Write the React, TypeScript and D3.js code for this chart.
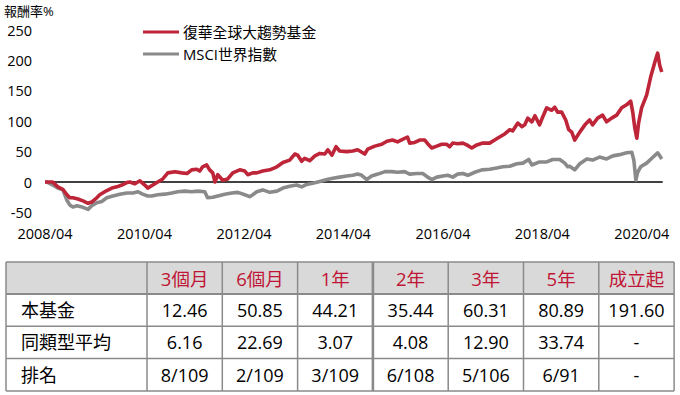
import React from 'react';
import * as d3 from 'd3';

const FONT = '"Open Sans", "Noto Sans CJK TC", sans-serif';
const RED = '#be2538';
const GRAY = '#8a8a8a';
const HEAD_RED = '#c01535';

const axisTitle = '報酬率%';
const fundName = '復華全球大趨勢基金';
const indexName = 'MSCI世界指數';

// cumulative return %
const fundSeries: [string, number][] = [
  ['2008-04-01', 0], ['2008-04-13', 0], ['2008-05-28', 0], ['2008-07-04', -8], ['2008-08-10', -12],
  ['2008-09-09', -21], ['2008-10-01', -26], ['2008-10-23', -26], ['2008-11-29', -28], ['2009-01-05', -31],
  ['2009-02-11', -35], ['2009-03-10', -33], ['2009-04-16', -26], ['2009-05-08', -21], ['2009-06-29', -14],
  ['2009-08-05', -10], ['2009-09-11', -8], ['2009-10-17', -5], ['2009-11-23', -1], ['2009-12-15', 0],
  ['2010-01-21', -3], ['2010-02-27', 2], ['2010-04-04', -5], ['2010-04-25', -10], ['2010-06-02', -5],
  ['2010-07-08', 0], ['2010-08-14', 5], ['2010-09-20', 15], ['2010-11-11', 17], ['2011-01-01', 15],
  ['2011-02-08', 14], ['2011-03-14', 20], ['2011-04-20', 21], ['2011-05-12', 18], ['2011-06-03', 25],
  ['2011-07-02', 28], ['2011-07-24', 20], ['2011-08-16', 15], ['2011-09-01', 0], ['2011-09-22', 12],
  ['2011-10-28', 3], ['2011-12-04', 5], ['2012-01-10', 15], ['2012-03-01', 20], ['2012-04-07', 18],
  ['2012-04-29', 12], ['2012-06-05', 15], ['2012-07-04', 15], ['2012-08-17', 18], ['2012-10-08', 20],
  ['2012-11-29', 25], ['2013-01-12', 32], ['2013-03-03', 36], ['2013-04-09', 46], ['2013-05-01', 44],
  ['2013-05-30', 34], ['2013-06-21', 39], ['2013-07-28', 35], ['2013-09-04', 43], ['2013-10-10', 47],
  ['2013-11-16', 46], ['2013-12-08', 53], ['2014-01-07', 44], ['2014-02-06', 58], ['2014-03-05', 51],
  ['2014-04-25', 50], ['2014-06-09', 51], ['2014-07-15', 53], ['2014-09-05', 46], ['2014-09-27', 54],
  ['2014-11-18', 59], ['2015-01-08', 62], ['2015-02-15', 67], ['2015-03-28', 69], ['2015-05-04', 66],
  ['2015-06-10', 70], ['2015-07-16', 74], ['2015-08-01', 64], ['2015-09-07', 65], ['2015-10-13', 69],
  ['2015-11-20', 69], ['2015-12-11', 63], ['2016-01-10', 56], ['2016-02-16', 59], ['2016-03-23', 62],
  ['2016-04-29', 62], ['2016-05-20', 58], ['2016-06-12', 64], ['2016-07-18', 63], ['2016-08-25', 64],
  ['2016-09-23', 61], ['2016-10-30', 56], ['2016-12-06', 61], ['2017-01-19', 64], ['2017-03-10', 64],
  ['2017-04-16', 69], ['2017-05-22', 74], ['2017-06-29', 79], ['2017-08-05', 86], ['2017-08-26', 84],
  ['2017-10-03', 97], ['2017-11-02', 91], ['2017-11-23', 94], ['2017-12-15', 105], ['2018-01-14', 99],
  ['2018-02-06', 109], ['2018-03-12', 94], ['2018-04-04', 107], ['2018-05-03', 122], ['2018-06-09', 118],
  ['2018-07-01', 123], ['2018-07-22', 115], ['2018-08-21', 115], ['2018-09-20', 102], ['2018-10-12', 86],
  ['2018-11-03', 82], ['2018-11-25', 69], ['2019-01-01', 82], ['2019-02-08', 94], ['2019-03-14', 102],
  ['2019-04-05', 94], ['2019-05-12', 105], ['2019-06-18', 110], ['2019-07-17', 99], ['2019-08-23', 105],
  ['2019-09-29', 110], ['2019-11-05', 122], ['2019-12-11', 127], ['2020-01-10', 133], ['2020-01-25', 115],
  ['2020-02-09', 89], ['2020-02-24', 72], ['2020-03-08', 97], ['2020-03-30', 122], ['2020-05-06', 143],
  ['2020-06-05', 173], ['2020-07-04', 196], ['2020-07-26', 212], ['2020-08-10', 192], ['2020-08-25', 181],
];

const indexSeries: [string, number][] = [
  ['2008-04-01', 0], ['2008-04-13', 0], ['2008-05-28', -5], ['2008-07-04', -10], ['2008-08-10', -13],
  ['2008-09-09', -30], ['2008-10-01', -38], ['2008-10-23', -41], ['2008-11-22', -39], ['2008-12-28', -41],
  ['2009-02-11', -45], ['2009-03-10', -39], ['2009-04-16', -34], ['2009-05-23', -32], ['2009-06-29', -26],
  ['2009-08-12', -23], ['2009-10-03', -20], ['2009-11-23', -18], ['2010-01-07', -18], ['2010-02-13', -16],
  ['2010-03-19', -20], ['2010-04-25', -23], ['2010-05-24', -23], ['2010-07-08', -21], ['2010-08-28', -20],
  ['2010-10-19', -18], ['2010-12-02', -16], ['2011-01-23', -15], ['2011-03-14', -16], ['2011-04-27', -15],
  ['2011-06-18', -16], ['2011-07-09', -26], ['2011-08-16', -25], ['2011-09-22', -23], ['2011-11-12', -20],
  ['2012-01-03', -18], ['2012-02-16', -17], ['2012-04-07', -21], ['2012-05-13', -24], ['2012-06-05', -21],
  ['2012-07-04', -16], ['2012-08-17', -13], ['2012-10-08', -17], ['2012-11-29', -15], ['2013-01-12', -10],
  ['2013-03-03', -7], ['2013-04-23', -5], ['2013-05-30', -8], ['2013-07-06', -4], ['2013-08-19', -2],
  ['2013-10-10', 1], ['2013-12-01', 4], ['2014-01-14', 6], ['2014-03-05', 8], ['2014-04-25', 10],
  ['2014-06-09', 11], ['2014-07-15', 13], ['2014-08-14', 11], ['2014-09-20', 4], ['2014-10-26', 10],
  ['2014-12-10', 13], ['2015-02-01', 17], ['2015-03-21', 17], ['2015-05-04', 16], ['2015-06-25', 17],
  ['2015-08-01', 13], ['2015-09-22', 14], ['2015-11-05', 14], ['2015-12-11', 8], ['2016-01-10', 4],
  ['2016-02-16', 8], ['2016-04-01', 10], ['2016-05-06', 11], ['2016-06-12', 8], ['2016-07-18', 13],
  ['2016-08-25', 14], ['2016-10-01', 11], ['2016-11-21', 16], ['2017-01-12', 20], ['2017-03-10', 21],
  ['2017-05-01', 23], ['2017-06-14', 25], ['2017-08-05', 26], ['2017-09-26', 30], ['2017-11-09', 31],
  ['2017-12-22', 37], ['2018-01-14', 28], ['2018-03-12', 33], ['2018-05-03', 33], ['2018-06-16', 37],
  ['2018-08-07', 37], ['2018-09-13', 31], ['2018-10-05', 25], ['2018-10-19', 26], ['2018-11-25', 20],
  ['2019-01-01', 30], ['2019-02-22', 38], ['2019-04-05', 36], ['2019-05-26', 41], ['2019-07-17', 38],
  ['2019-09-01', 43], ['2019-10-21', 45], ['2019-12-11', 48], ['2020-01-18', 49], ['2020-02-02', 36],
  ['2020-02-17', 3], ['2020-03-01', 16], ['2020-03-23', 25], ['2020-05-06', 31], ['2020-06-13', 39],
  ['2020-07-26', 48], ['2020-08-10', 43], ['2020-08-25', 38],
];

const yTicks = [-50, 0, 50, 100, 150, 200, 250];
const xTickLabels = ['2008/04', '2010/04', '2012/04', '2014/04', '2016/04', '2018/04', '2020/04'];

const periods = ['3個月', '6個月', '1年', '2年', '3年', '5年', '成立起'];
const rowLabels = ['本基金', '同類型平均', '排名'];
const fundReturns = ['12.46', '50.85', '44.21', '35.44', '60.31', '80.89', '191.60'];
const peerAverages = ['6.16', '22.69', '3.07', '4.08', '12.90', '33.74', '-'];
const rankings = ['8/109', '2/109', '3/109', '6/108', '5/106', '6/91', '-'];

const parseDay = d3.timeParse('%Y-%m-%d');
const parseMonth = d3.timeParse('%Y/%m');

const x = d3.scaleTime()
  .domain([new Date(2008, 3, 1), new Date(2020, 8, 1)])
  .range([45, 662.7]);
const y = d3.scaleLinear().domain([-50, 250]).range([212.4, 30]);

const line = d3.line<[string, number]>()
  .x(d => x(parseDay(d[0]) as Date))
  .y(d => y(d[1]));

const Table = () => {
  const left = 6, labelW = 141, colW = 75.3;
  const top = 262, headH = 32, rowH = 32.3;
  const rows = [fundReturns, peerAverages, rankings];
  const right = left + labelW + colW * periods.length;
  const bottom = top + headH + rowH * rows.length;
  const grid = '#8a8a8a';
  return (
    <g fontFamily={FONT}>
      <rect x={left} y={top} width={right - left} height={headH} fill="#d9d9d9" />
      {periods.map((p, i) => (
        <text key={p} x={left + labelW + colW * (i + 0.5)} y={top + headH / 2} textAnchor="middle"
          dominantBaseline="central" fontSize={18.5} fill={HEAD_RED}>{p}</text>
      ))}
      {rows.map((r, ri) => (
        <g key={ri}>
          <text x={21} y={top + headH + rowH * (ri + 0.5)} dominantBaseline="central" fontSize={18}
            fill="#000">{rowLabels[ri]}</text>
          {r.map((v, i) => (
            <text key={i} x={left + labelW + colW * (i + 0.5)} y={top + headH + rowH * (ri + 0.5)}
              textAnchor="middle" dominantBaseline="central" fontSize={18} fill="#000">{v}</text>
          ))}
        </g>
      ))}
      {/* horizontal rules */}
      {[top, top + headH, ...rows.map((_, i) => top + headH + rowH * (i + 1))].map((yy, i) => (
        <line key={'h' + i} x1={left} x2={right} y1={yy} y2={yy} stroke={grid}
          strokeWidth={i === 1 ? 2.2 : 1.5} />
      ))}
      {/* vertical rules */}
      {[left, left + labelW, ...periods.map((_, i) => left + labelW + colW * (i + 1))].map((xx, i) => (
        <line key={'v' + i} x1={xx} x2={xx} y1={top} y2={bottom} stroke={grid}
          strokeWidth={i === 4 ? 2.6 : 1.5} />
      ))}
    </g>
  );
};

export default function App() {
  return (
    <div style={{ position: 'fixed', left: 0, top: 0 }}>
      <svg width={680} height={395} style={{ display: 'block', background: '#fff' }}>
        <text x={4} y={16} fontFamily={FONT} fontSize={13} fill="#000">{axisTitle}</text>

        <g fontFamily={FONT} fontSize={14.5} fill="#000">
          {yTicks.map(t => (
            <text key={t} x={32} y={y(t)} textAnchor="end" dominantBaseline="central">{t}</text>
          ))}
          {xTickLabels.map(l => (
            <text key={l} x={x(parseMonth(l) as Date)} y={233} textAnchor="middle"
              dominantBaseline="central">{l}</text>
          ))}
        </g>

        <line x1={x.range()[0]} x2={x.range()[1]} y1={y(0)} y2={y(0)} stroke="#000" strokeWidth={1.5} />

        <path d={line(indexSeries) || ''} fill="none" stroke={GRAY} strokeWidth={3.6} strokeLinejoin="round" />
        <path d={line(fundSeries) || ''} fill="none" stroke={RED} strokeWidth={3.6} strokeLinejoin="round" />

        <g fontFamily={FONT} fontSize={14.8} fill="#000">
          <line x1={143} x2={179} y1={32} y2={32} stroke={RED} strokeWidth={3} />
          <text x={183} y={32} dominantBaseline="central">{fundName}</text>
          <line x1={143} x2={179} y1={54} y2={54} stroke={GRAY} strokeWidth={3} />
          <text x={183} y={54} dominantBaseline="central">{indexName}</text>
        </g>

        <Table />
      </svg>
    </div>
  );
}
